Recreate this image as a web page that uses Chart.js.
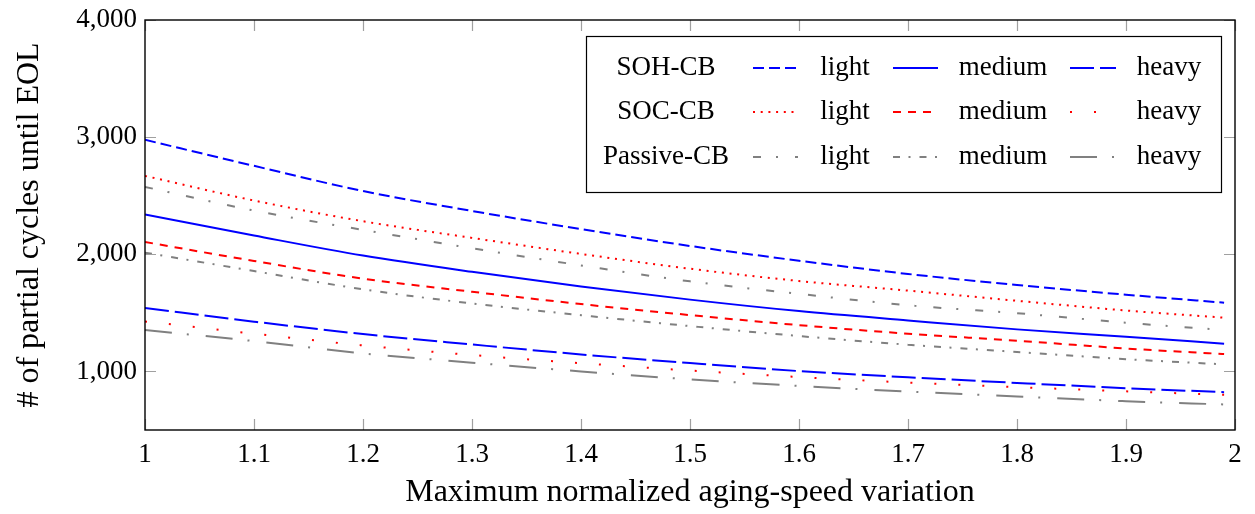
<!DOCTYPE html>
<html>
<head>
<meta charset="utf-8">
<script src="https://cdn.jsdelivr.net/npm/chart.js@4.4.1/dist/chart.umd.min.js"></script>
<style>
    html, body { margin: 0; padding: 0; background: #fff; }
    #wrap { width: 1255px; height: 514px; }
</style>
</head>
<body>
<div id="wrap"><canvas id="eol-chart" width="1255" height="514"></canvas></div>
<script>
// x positions (max normalized aging-speed variation)
const xValues = [1.0, 1.1, 1.2, 1.3, 1.4, 1.5, 1.6, 1.7, 1.8, 1.9, 1.99];

// cycles until EOL
const sohLight = [2977, 2755, 2540, 2370, 2215, 2071, 1945, 1832, 1738, 1655, 1587];
const sohMedium = [2339, 2160, 1989, 1850, 1725, 1613, 1515, 1435, 1359, 1296, 1237];
const sohHeavy = [1541, 1425, 1319, 1230, 1145, 1071, 1003, 950, 902, 857, 823];
const socLight = [2669, 2459, 2282, 2140, 2003, 1877, 1772, 1690, 1603, 1520, 1459];
const socMedium = [2105, 1943, 1792, 1680, 1575, 1481, 1395, 1322, 1262, 1196, 1148];
const socHeavy = [1427, 1322, 1222, 1140, 1070, 1008, 952, 905, 866, 830, 800];
const passiveLight = [2575, 2373, 2208, 2052, 1905, 1769, 1662, 1565, 1497, 1416, 1353];
const passiveMedium = [2014, 1857, 1701, 1580, 1480, 1387, 1302, 1228, 1166, 1105, 1060];
const passiveHeavy = [1353, 1259, 1154, 1075, 1000, 932, 876, 828, 786, 746, 718];

const groupLabels = ['SOH-CB', 'SOC-CB', 'Passive-CB'];
const loadLabels = ['light', 'medium', 'heavy'];

const xTicks = [1, 1.1, 1.2, 1.3, 1.4, 1.5, 1.6, 1.7, 1.8, 1.9, 2];
const yTicks = [1000, 2000, 3000, 4000];

(function () {
    const FONT = '"Liberation Serif", "Times New Roman", serif';
    const BLUE = '#0000ff', RED = '#ff0000', GRAY = '#808080';

    function series(label, values, color, dash) {
        return {
            label: label,
            data: values.map((v, i) => ({ x: xValues[i], y: v })),
            borderColor: color,
            backgroundColor: color,
            borderWidth: 2,
            borderDash: dash,
            pointRadius: 0,
            cubicInterpolationMode: 'monotone',
            fill: false
        };
    }

    const datasets = [
        series('SOH-CB light', sohLight, BLUE, [11, 5]),
        series('SOH-CB medium', sohMedium, BLUE, []),
        series('SOH-CB heavy', sohHeavy, BLUE, [24, 6]),
        series('SOC-CB light', socLight, RED, [2, 5.7]),
        series('SOC-CB medium', socMedium, RED, [8, 7]),
        series('SOC-CB heavy', socHeavy, RED, [2, 22]),
        series('Passive-CB light', passiveLight, GRAY, [8, 15, 2, 17]),
        series('Passive-CB medium', passiveMedium, GRAY, [7, 8.5, 2, 9]),
        series('Passive-CB heavy', passiveHeavy, GRAY, [27, 15, 2, 17])
    ];

    // pgfplots style: frame + inward ticks on all four sides
    const frameTicks = {
        id: 'frameTicks',
        afterDatasetsDraw(chart) {
            const ctx = chart.ctx;
            const a = chart.chartArea;
            const xs = chart.scales.x, ys = chart.scales.y;
            const len = 11;
            ctx.save();
            ctx.strokeStyle = '#a0a0a0';
            ctx.lineWidth = 1.2;
            ctx.beginPath();
            xTicks.forEach(v => {
                const px = Math.round(xs.getPixelForValue(v)) + 0.5;
                ctx.moveTo(px, a.bottom); ctx.lineTo(px, a.bottom - len);
                ctx.moveTo(px, a.top); ctx.lineTo(px, a.top + len);
            });
            yTicks.forEach(v => {
                const py = Math.round(ys.getPixelForValue(v)) + 0.5;
                ctx.moveTo(a.left, py); ctx.lineTo(a.left + len, py);
                ctx.moveTo(a.right, py); ctx.lineTo(a.right - len, py);
            });
            ctx.stroke();
            ctx.strokeStyle = '#000';
            ctx.lineWidth = 1.4;
            ctx.strokeRect(a.left, a.top, a.right - a.left, a.bottom - a.top);
            ctx.restore();
        }
    };

    // 3x3 legend table with row headers
    const tableLegend = {
        id: 'tableLegend',
        afterDraw(chart) {
            const ctx = chart.ctx;
            const box = { left: 586, top: 36, right: 1221, bottom: 192 };
            const rowY = [68, 112, 157];
            const headerX = 666;
            const lineX = [[753, 798], [893, 938], [1070, 1116]];
            const textX = [845, 1003, 1169];

            ctx.save();
            ctx.fillStyle = '#fff';
            ctx.fillRect(box.left, box.top, box.right - box.left, box.bottom - box.top);
            ctx.strokeStyle = '#000';
            ctx.lineWidth = 1.2;
            ctx.strokeRect(box.left + 0.5, box.top + 0.5, box.right - box.left, box.bottom - box.top);

            ctx.font = '27px ' + FONT;
            ctx.textAlign = 'center';
            ctx.textBaseline = 'middle';
            groupLabels.forEach((g, r) => {
                ctx.fillStyle = '#000';
                ctx.fillText(g, headerX, rowY[r]);
                loadLabels.forEach((l, c) => {
                    const ds = chart.data.datasets[r * 3 + c];
                    ctx.strokeStyle = ds.borderColor;
                    ctx.lineWidth = ds.borderWidth;
                    ctx.setLineDash(ds.borderDash);
                    ctx.beginPath();
                    ctx.moveTo(lineX[c][0], rowY[r]);
                    ctx.lineTo(lineX[c][1], rowY[r]);
                    ctx.stroke();
                    ctx.setLineDash([]);
                    ctx.fillStyle = '#000';
                    ctx.fillText(l, textX[c], rowY[r]);
                });
            });
            ctx.restore();
        }
    };

    const config = {
        type: 'line',
        data: { datasets: datasets },
        options: {
            responsive: false,
            animation: false,
            layout: { padding: { top: 20, right: 20, left: 0, bottom: 0 } },
            plugins: {
                legend: { display: false },
                tooltip: { enabled: false }
            },
            scales: {
                x: {
                    type: 'linear',
                    min: 1,
                    max: 2,
                    afterBuildTicks: s => { s.ticks = xTicks.map(v => ({ value: v })); },
                    afterFit: s => { s.height = 84; },
                    grid: { display: false, drawTicks: false },
                    border: { display: false },
                    ticks: {
                        color: '#000',
                        padding: 11,
                        maxRotation: 0,
                        font: { family: FONT, size: 27, lineHeight: 1 },
                        callback: v => String(Math.round(v * 10) / 10)
                    },
                    title: {
                        display: true,
                        text: 'Maximum normalized aging-speed variation',
                        color: '#000',
                        font: { family: FONT, size: 32 },
                        padding: { top: 4, bottom: 2 }
                    }
                },
                y: {
                    type: 'linear',
                    min: 500,
                    max: 4000,
                    afterBuildTicks: s => { s.ticks = yTicks.map(v => ({ value: v })); },
                    afterFit: s => { s.width = 145; s.paddingTop = 0; s.paddingBottom = 0; },
                    grid: { display: false, drawTicks: false },
                    border: { display: false },
                    ticks: {
                        color: '#000',
                        padding: 8,
                        font: { family: FONT, size: 27, lineHeight: 1 },
                        callback: v => v.toLocaleString('en-US')
                    },
                    title: {
                        display: true,
                        text: '# of partial cycles until EOL',
                        color: '#000',
                        font: { family: FONT, size: 32 },
                        padding: { top: 10, bottom: 4 }
                    }
                }
            }
        },
        plugins: [frameTicks, tableLegend]
    };

    new Chart(document.getElementById('eol-chart'), config);
}());
</script>
</body>
</html>
